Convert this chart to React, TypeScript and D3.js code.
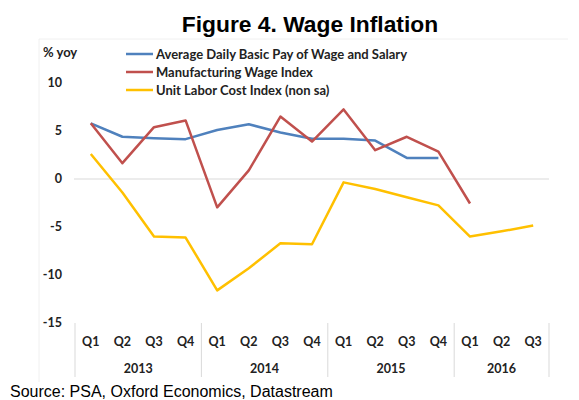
import React from "react";
import * as d3 from "d3";

const quarters = ["Q1","Q2","Q3","Q4","Q1","Q2","Q3","Q4","Q1","Q2","Q3","Q4","Q1","Q2","Q3"];
const years = ["2013", "2014", "2015", "2016"];
const yearSpans = [4, 4, 4, 3];
const yTicks = [10, 5, 0, -5, -10, -15];

const avgDailyPay = [5.8, 4.4, 4.25, 4.15, 5.1, 5.7, 4.85, 4.2, 4.2, 4.0, 2.2, 2.2];
const mfgWage = [5.8, 1.65, 5.4, 6.1, -2.95, 0.9, 6.5, 3.9, 7.25, 3.0, 4.4, 2.85, -2.55];
const unitLabor = [2.6, -1.4, -6.0, -6.1, -11.6, -9.3, -6.7, -6.8, -0.35, -1.05, -1.9, -2.75, -6.0, -5.45, -4.85];

const seriesNames = [
  "Average Daily Basic Pay of Wage and Salary",
  "Manufacturing Wage Index",
  "Unit Labor Cost Index (non sa)",
];
const seriesColors = ["#4F81BD", "#C0504D", "#FFC000"];

export default function App() {
  const W = 579, H = 400;
  const x = d3.scaleBand<number>().domain(d3.range(quarters.length)).range([75, 549]).paddingInner(0).paddingOuter(0);
  const y = d3.scaleLinear().domain([-15, 10]).range([323, 83]);
  const cx = (i: number) => (x(i) as number) + x.bandwidth() / 2;
  const line = d3.line<number>().x((_, i) => cx(i)).y((d) => y(d));
  const data = [avgDailyPay, mfgWage, unitLabor];
  const labelFont = "Lato, 'Open Sans', sans-serif";

  const starts: number[] = [];
  let acc = 0;
  yearSpans.forEach((s) => { starts.push(acc); acc += s; });

  return (
    <svg width={W} height={H} style={{ position: "absolute", left: 0, top: 0, background: "#fff" }}>
      <rect x={0} y={0} width={W} height={H} fill="#fff" />
      <line x1={39} y1={39} x2={568} y2={39} stroke="#f0f0f0" strokeWidth={1} />
      <line x1={39} y1={39} x2={39} y2={382} stroke="#f0f0f0" strokeWidth={1} />
      <text x={310} y={32} textAnchor="middle" fontFamily="'Liberation Sans', Arial, sans-serif" fontWeight="bold" fontSize={22.8} fill="#000">
        Figure 4. Wage Inflation
      </text>
      <text x={43} y={57} fontFamily={labelFont} fontWeight="bold" fontSize={13} fill="#222">% yoy</text>
      {yTicks.map((t) => (
        <text key={t} x={62} y={y(t)} dy="0.35em" textAnchor="end" fontFamily={labelFont} fontWeight="bold" fontSize={12.5} fill="#222">{t}</text>
      ))}
      <line x1={74} x2={549} y1={y(0)} y2={y(0)} stroke="#d9d9d9" strokeWidth={1} />
      {[...starts.map((s) => x(s) as number), x.range()[1]].map((sx, i) => (
        <line key={i} x1={sx} x2={sx} y1={323} y2={377} stroke="#d9d9d9" strokeWidth={1} />
      ))}
      {quarters.map((q, i) => (
        <text key={i} x={cx(i)} y={346} textAnchor="middle" fontFamily={labelFont} fontWeight="bold" fontSize={12.5} fill="#222">{q}</text>
      ))}
      {years.map((yr, k) => {
        const a = x(starts[k]) as number;
        const b = (x(starts[k] + yearSpans[k] - 1) as number) + x.bandwidth();
        return (
          <text key={yr} x={(a + b) / 2} y={373} textAnchor="middle" fontFamily={labelFont} fontWeight="bold" fontSize={12.5} fill="#222">{yr}</text>
        );
      })}
      {data.map((d, k) => (
        <path key={k} d={line(d) || ""} fill="none" stroke={seriesColors[k]} strokeWidth={2.5} strokeLinejoin="round" />
      ))}
      {seriesNames.map((n, k) => (
        <g key={n}>
          <line x1={126} x2={153} y1={54 + k * 18} y2={54 + k * 18} stroke={seriesColors[k]} strokeWidth={2.5} />
          <text x={156} y={54 + k * 18} dy="0.35em" fontFamily={labelFont} fontWeight="bold" fontSize={13} fill="#222">{n}</text>
        </g>
      ))}
      <text x={10} y={397} fontFamily="'Liberation Sans', Arial, sans-serif" fontSize={16} fill="#000">
        Source: PSA, Oxford Economics, Datastream
      </text>
    </svg>
  );
}
